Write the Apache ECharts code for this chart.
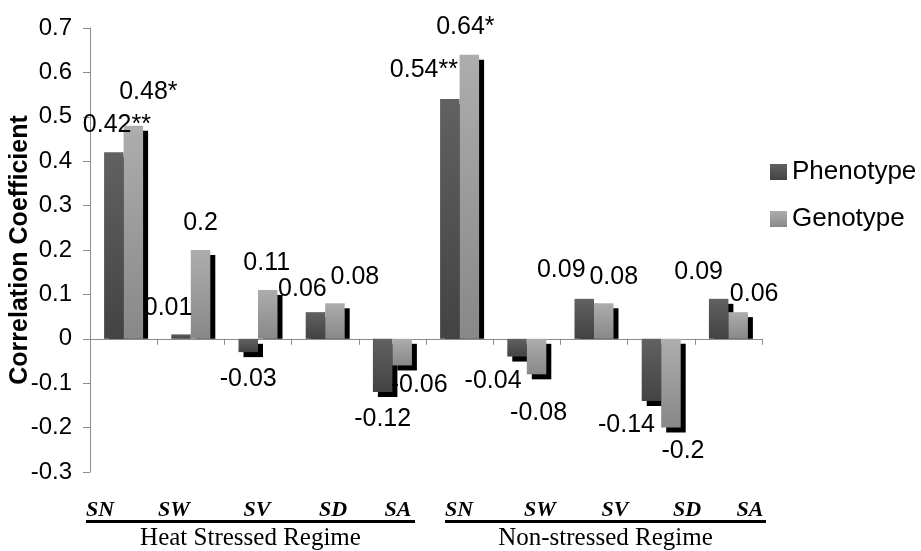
<!DOCTYPE html>
<html>
<head>
<meta charset="utf-8">
<script src="https://cdn.jsdelivr.net/npm/echarts@6/dist/echarts.min.js"></script>
<style>
html,body{margin:0;padding:0;background:#fff;}
#c{width:921px;height:551px;}
</style>
</head>
<body>
<div id="c"></div>
<script>
// ---- data ----
const categories = ['SN','SW','SV','SD','SA','SN','SW','SV','SD','SA'];
const groupNames = ['Heat Stressed Regime','Non-stressed Regime'];
const seriesNames = ['Phenotype','Genotype'];
const phenotype = [0.42, 0.01, -0.03, 0.06, -0.12, 0.54, -0.04, 0.09, -0.14, 0.09];
const genotype  = [0.48, 0.2, 0.11, 0.08, -0.06, 0.64, -0.08, 0.08, -0.2, 0.06];
const phenoSig = ['**','','','','','**','','','',''];
const genoSig  = ['*','','','','','*','','','',''];
const yTicks = [-0.3,-0.2,-0.1,0,0.1,0.2,0.3,0.4,0.5,0.6,0.7];

// ---- layout (label nudges, text placement) ----
const BAR_W = 19.5, SH = 5;
const phenoOffsets = [[3,-1],[-13,0],[0,0],[-13,3],[0,1],[-26,-2],[-24,-2],[-23,-2],[-25,-2],[-20,0]];
const genoOffsets  = [[15,-7],[0,0],[-1,0],[20,0],[17,-7],[-4,-1],[2,12],[10,0],[12,-3],[16,8]];
const catLabelX = [100,174,257,333,398,459,540,615,687,750];
const groupSpan = [[86,415],[445,766]];

const chart = echarts.init(document.getElementById('c'), null, {renderer:'canvas'});

function items(vals, offs){
  return vals.map((v,i)=>({
    value: v,
    label: { position: v < 0 ? 'bottom' : 'top', offset: offs[i] }
  }));
}
const shadowData = [];
phenotype.forEach((v,i)=>shadowData.push([i, v, 0]));
genotype.forEach((v,i)=>shadowData.push([i, v, 1]));

const phenoColor = new echarts.graphic.LinearGradient(0,0,0,1,[{offset:0,color:'#616161'},{offset:1,color:'#434343'}]);
const genoColor  = new echarts.graphic.LinearGradient(0,0,0,1,[{offset:0,color:'#adadad'},{offset:1,color:'#888888'}]);

const labelStyle = { show:true, fontFamily:'Liberation Sans, Arial', fontSize:25, color:'#000', distance:14 };

const graphics = [];
categories.forEach((c,i)=>{
  graphics.push({type:'text', x:catLabelX[i], y:510, style:{text:c, fill:'#000', font:'italic bold 22px "Liberation Serif"', align:'center', verticalAlign:'middle'}});
});
groupNames.forEach((g,i)=>{
  const [a,b] = groupSpan[i];
  graphics.push({type:'rect', shape:{x:a, y:520, width:b-a, height:3}, style:{fill:'#000'}});
  graphics.push({type:'text', x:(a+b)/2, y:538, style:{text:g, fill:'#000', font:'25px "Liberation Serif"', align:'center', verticalAlign:'middle'}});
});

chart.setOption({
  animation:false,
  backgroundColor:'#fff',
  grid:{left:90, right:159, top:28, bottom:79, containLabel:false, outerBoundsMode:'none'},
  legend:{
    orient:'vertical', left:765, top:154, itemWidth:17, itemHeight:16, itemGap:21,
    icon:'rect',
    textStyle:{fontFamily:'Liberation Sans, Arial', fontSize:26, color:'#000'},
    itemStyle:{shadowColor:'rgba(0,0,0,0)', shadowOffsetX:0, shadowOffsetY:0, shadowBlur:0},
    data: seriesNames
  },
  xAxis:{
    type:'category', data:categories,
    axisLine:{onZero:true, lineStyle:{color:'#8c8c8c', width:1}},
    axisTick:{show:true, length:6, alignWithLabel:false, lineStyle:{color:'#8c8c8c'}},
    axisLabel:{show:false},
    splitLine:{show:false}
  },
  yAxis:{
    type:'value', min:yTicks[0], max:yTicks[yTicks.length-1], interval:0.1,
    name:'Correlation Coefficient', nameLocation:'middle', nameGap:57, nameMoveOverlap:false,
    nameTextStyle:{fontFamily:'Liberation Sans, Arial', fontWeight:'bold', fontSize:25, color:'#000'},
    axisLine:{show:true, lineStyle:{color:'#8c8c8c', width:1}},
    axisTick:{show:true, length:7, lineStyle:{color:'#8c8c8c'}},
    axisLabel:{margin:18, fontFamily:'Liberation Sans, Arial', fontSize:24, color:'#000',
      formatter:v=>String(+v.toFixed(1))},
    splitLine:{show:false}
  },
  series:[
    {
      name:'shadow', type:'custom', z:1, silent:true,
      data: shadowData,
      encode:{x:0, y:1},
      renderItem:(params, api)=>{
        const idx = api.value(0), v = api.value(1), s = api.value(2);
        const zero = api.coord([idx, 0]);
        const end = api.coord([idx, v]);
        const x = zero[0] - BAR_W + s*BAR_W + SH;
        let y0, y1;
        if (v >= 0) { y0 = end[1] + SH; y1 = zero[1]; }
        else { y0 = zero[1] + SH; y1 = end[1] + SH; }
        if (y1 <= y0) return null;
        return {type:'rect', shape:{x:x, y:y0, width:BAR_W, height:y1-y0}, style:{fill:'#000'}};
      }
    },
    {
      name:seriesNames[0], type:'bar', z:3, barWidth:BAR_W, barGap:'0%',
      data: items(phenotype, phenoOffsets),
      itemStyle:{color:phenoColor},
      label:Object.assign({}, labelStyle, {formatter:p=>p.value + phenoSig[p.dataIndex]}),
      emphasis:{disabled:true}
    },
    {
      name:seriesNames[1], type:'bar', z:3, barWidth:BAR_W, barGap:'0%',
      data: items(genotype, genoOffsets),
      itemStyle:{color:genoColor},
      label:Object.assign({}, labelStyle, {formatter:p=>p.value + genoSig[p.dataIndex]}),
      emphasis:{disabled:true}
    }
  ],
  graphic: graphics
});
</script>
</body>
</html>
